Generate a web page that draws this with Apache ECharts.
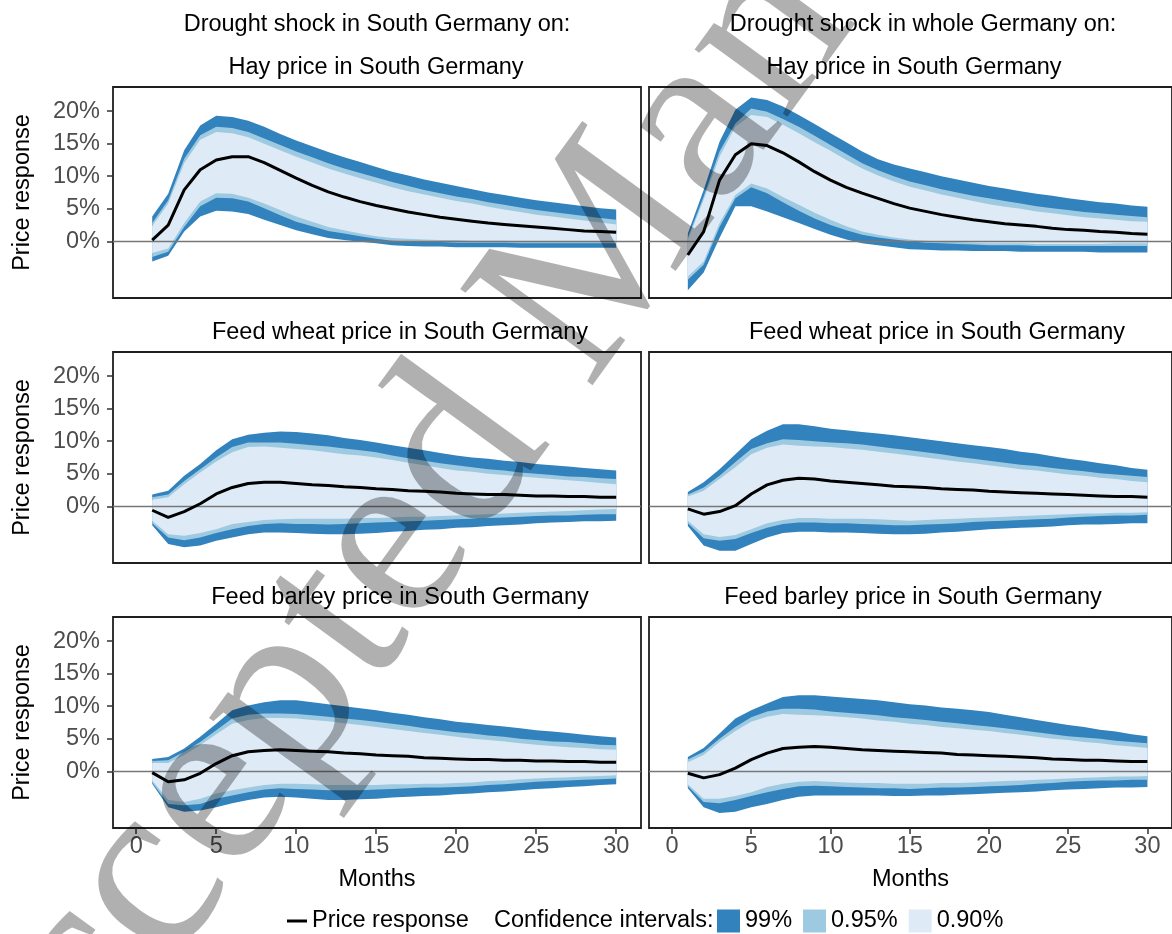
<!DOCTYPE html>
<html>
<head>
<meta charset="utf-8">
<script src="https://cdn.jsdelivr.net/npm/echarts@6/dist/echarts.min.js"></script>
<style>
html,body{margin:0;padding:0;background:#ffffff;}
#chart{width:1172px;height:934px;}
</style>
</head>
<body>
<div id="chart"></div>
<script>
// ---------------- data ----------------
const months = [1,2,3,4,5,6,7,8,9,10,11,12,13,14,15,16,17,18,19,20,21,22,23,24,25,26,27,28,29,30];
const xTicks = [0,5,10,15,20,25,30];
const yTicks = [0,5,10,15,20];
const yTickLabels = ['0%','5%','10%','15%','20%'];
const columnTitles = ['Drought shock in South Germany on:', 'Drought shock in whole Germany on:'];
const panelTitles = ['Hay price in South Germany','Hay price in South Germany',
                     'Feed wheat price in South Germany','Feed wheat price in South Germany',
                     'Feed barley price in South Germany','Feed barley price in South Germany'];
const legendNames = ['Price response','99%','0.95%','0.90%'];

// Panel 1: hay, shock in South Germany
const p1Line = [0.2,2.5,7.9,11.0,12.5,13.0,13.0,12.1,10.9,9.7,8.6,7.6,6.8,6.1,5.5,5.0,4.5,4.1,3.7,3.4,3.1,2.8,2.6,2.4,2.2,2.0,1.8,1.6,1.5,1.4];
const p1Up99 = [3.8,7.3,14.0,17.8,19.3,19.1,18.5,17.6,16.5,15.5,14.6,13.7,12.9,12.2,11.4,10.7,10.1,9.5,9.0,8.5,8.0,7.5,7.1,6.7,6.3,6.0,5.7,5.4,5.1,4.9];
const p1Up95 = [2.8,6.3,12.7,16.3,17.6,17.4,16.8,15.8,14.8,13.8,12.9,12.0,11.2,10.5,9.8,9.1,8.5,7.9,7.4,6.9,6.5,6.0,5.6,5.2,4.8,4.5,4.2,3.9,3.6,3.3];
const p1Up90 = [2.3,5.8,12.0,15.6,16.8,16.6,16.0,15.0,14.0,13.0,12.1,11.2,10.4,9.7,9.0,8.3,7.7,7.2,6.7,6.2,5.8,5.3,4.9,4.5,4.1,3.8,3.5,3.2,2.9,2.6];
const p1Lo90 = [-1.8,-1.1,2.8,6.1,7.4,7.3,6.7,5.8,4.8,3.8,3.0,2.2,1.7,1.2,0.8,0.5,0.4,0.3,0.2,0.2,0.1,0.1,0.1,0.0,0.0,0.0,0.0,0.0,0.0,0.0];
const p1Lo95 = [-2.4,-1.6,2.2,5.4,6.7,6.6,6.1,5.1,4.0,3.0,2.3,1.6,1.2,0.8,0.4,0.1,0.0,-0.1,-0.1,-0.2,-0.2,-0.2,-0.2,-0.3,-0.3,-0.3,-0.3,-0.3,-0.3,-0.3];
const p1Lo99 = [-3.1,-2.2,1.5,3.8,4.7,4.6,4.2,3.3,2.5,1.7,1.1,0.5,0.2,-0.05,-0.3,-0.6,-0.7,-0.8,-0.8,-0.9,-0.9,-0.9,-0.9,-1.0,-1.0,-1.0,-1.0,-1.0,-1.0,-1.0];

// Panel 2: hay, shock in whole Germany
const p2Line = [-2.1,1.5,9.4,13.3,15.0,14.7,13.6,12.2,10.7,9.4,8.3,7.4,6.6,5.8,5.1,4.6,4.1,3.7,3.3,3.0,2.7,2.5,2.3,2.0,1.8,1.7,1.5,1.4,1.2,1.1];
const p2Up99 = [1.2,7.9,15.3,20.2,22.1,21.7,20.7,19.4,18.0,16.6,15.2,13.8,12.6,11.8,11.2,10.6,10.0,9.5,9.0,8.5,8.1,7.7,7.3,7.0,6.6,6.3,6.0,5.8,5.5,5.3];
const p2Up95 = [0.6,6.9,13.8,18.1,20.4,19.9,18.8,17.6,16.2,14.8,13.4,12.0,10.9,10.0,9.2,8.6,8.0,7.5,7.0,6.6,6.2,5.8,5.4,5.1,4.8,4.5,4.3,4.1,3.9,3.7];
const p2Up90 = [0.2,6.4,13.0,17.6,19.4,19.1,17.9,16.6,15.2,13.9,12.5,11.2,10.1,9.2,8.4,7.8,7.2,6.7,6.2,5.7,5.3,5.0,4.6,4.3,4.0,3.7,3.5,3.3,3.1,3.0];
const p2Lo90 = [-5.4,-3.1,2.8,7.1,8.9,8.1,6.8,5.6,4.4,3.3,2.3,1.5,1.0,0.6,0.3,0.1,0.0,-0.1,-0.2,-0.3,-0.3,-0.3,-0.4,-0.4,-0.4,-0.4,-0.4,-0.3,-0.3,-0.3];
const p2Lo95 = [-5.9,-3.6,2.2,6.6,8.3,7.4,6.0,4.7,3.5,2.5,1.7,1.0,0.6,0.3,0.0,-0.2,-0.3,-0.4,-0.5,-0.6,-0.6,-0.6,-0.7,-0.7,-0.7,-0.7,-0.7,-0.7,-0.7,-0.7];
const p2Lo99 = [-7.5,-4.8,0.5,5.4,5.4,4.6,3.7,2.8,1.9,1.0,0.3,-0.3,-0.6,-0.9,-1.2,-1.3,-1.4,-1.4,-1.5,-1.5,-1.5,-1.6,-1.6,-1.6,-1.6,-1.6,-1.7,-1.7,-1.7,-1.7];

// Panel 3: feed wheat, shock in South Germany
const p3Line = [-0.6,-1.7,-0.8,0.4,1.9,2.9,3.5,3.7,3.7,3.5,3.3,3.2,3.0,2.9,2.7,2.6,2.4,2.3,2.2,2.0,1.9,1.8,1.8,1.7,1.6,1.6,1.5,1.5,1.4,1.4];
const p3Up99 = [1.8,2.4,4.7,6.5,8.6,10.3,11.0,11.3,11.5,11.4,11.2,10.9,10.5,10.2,9.8,9.4,9.0,8.6,8.2,7.8,7.5,7.3,7.0,6.8,6.5,6.3,6.1,5.9,5.7,5.5];
const p3Up95 = [1.4,1.8,3.9,5.7,7.5,9.1,9.8,9.8,9.8,9.6,9.4,9.2,8.9,8.6,8.3,7.8,7.4,7.0,6.6,6.3,6.0,5.7,5.5,5.2,5.0,4.8,4.6,4.5,4.3,4.2];
const p3Up90 = [1.0,1.4,3.4,5.2,6.9,8.3,9.1,9.2,9.0,8.8,8.6,8.3,8.0,7.8,7.5,7.1,6.7,6.3,5.9,5.5,5.3,5.0,4.8,4.6,4.4,4.2,4.0,3.8,3.6,3.4];
const p3Lo90 = [-2.2,-4.3,-4.5,-4.1,-3.5,-2.7,-2.4,-2.1,-2.0,-1.9,-1.9,-1.9,-1.9,-1.8,-1.8,-1.7,-1.6,-1.6,-1.5,-1.4,-1.3,-1.2,-1.1,-1.0,-0.9,-0.8,-0.7,-0.6,-0.5,-0.4];
const p3Lo95 = [-2.6,-4.8,-5.2,-4.8,-4.1,-3.5,-3.0,-2.7,-2.6,-2.7,-2.7,-2.8,-2.7,-2.6,-2.5,-2.4,-2.3,-2.2,-2.1,-2.0,-1.9,-1.8,-1.7,-1.6,-1.5,-1.4,-1.4,-1.3,-1.2,-1.2];
const p3Lo99 = [-2.9,-5.8,-6.3,-6.0,-5.3,-4.8,-4.3,-4.0,-4.0,-4.1,-4.2,-4.3,-4.3,-4.2,-4.1,-3.9,-3.8,-3.6,-3.5,-3.3,-3.2,-3.0,-2.9,-2.8,-2.6,-2.5,-2.4,-2.3,-2.3,-2.2];

// Panel 4: feed wheat, shock in whole Germany
const p4Line = [-0.4,-1.2,-0.8,0.1,1.9,3.3,4.0,4.3,4.2,3.9,3.7,3.5,3.3,3.1,3.0,2.9,2.7,2.6,2.5,2.3,2.2,2.1,2.0,1.9,1.8,1.7,1.6,1.5,1.5,1.4];
const p4Up99 = [2.2,3.7,5.7,8.0,10.3,11.6,12.6,12.6,12.3,11.9,11.7,11.4,11.2,10.9,10.6,10.3,10.0,9.7,9.4,9.1,8.8,8.4,8.1,7.7,7.3,7.0,6.6,6.3,5.9,5.6];
const p4Up95 = [1.8,2.9,4.7,6.8,8.8,9.7,10.3,10.2,10.0,9.8,9.7,9.5,9.2,8.9,8.6,8.3,8.0,7.6,7.3,7.0,6.7,6.4,6.2,5.9,5.6,5.4,5.1,4.9,4.7,4.5];
const p4Up90 = [1.5,2.4,4.2,6.0,8.0,9.0,9.5,9.3,9.2,9.1,8.9,8.7,8.4,8.1,7.8,7.5,7.2,6.9,6.6,6.3,6.0,5.7,5.5,5.2,4.9,4.7,4.4,4.2,3.9,3.7];
const p4Lo90 = [-2.2,-4.3,-4.7,-4.4,-3.5,-2.6,-2.1,-1.8,-1.8,-1.9,-1.9,-1.9,-2.0,-2.1,-2.2,-2.1,-2.0,-1.9,-1.8,-1.7,-1.6,-1.5,-1.4,-1.3,-1.2,-1.1,-1.1,-1.0,-1.0,-0.9];
const p4Lo95 = [-2.6,-4.9,-5.3,-5.0,-4.1,-3.3,-2.7,-2.5,-2.5,-2.6,-2.6,-2.7,-2.8,-2.9,-2.9,-2.8,-2.7,-2.6,-2.4,-2.3,-2.2,-2.1,-2.0,-1.9,-1.7,-1.6,-1.5,-1.4,-1.4,-1.3];
const p4Lo99 = [-3.0,-6.0,-6.8,-6.8,-5.8,-4.8,-4.1,-3.9,-3.9,-4.0,-4.0,-4.1,-4.2,-4.3,-4.3,-4.2,-4.0,-3.9,-3.7,-3.5,-3.4,-3.3,-3.2,-3.1,-2.9,-2.8,-2.8,-2.7,-2.6,-2.6];

// Panel 5: feed barley, shock in South Germany
const p5Line = [-0.2,-1.6,-1.3,-0.3,1.2,2.4,3.0,3.2,3.3,3.2,3.1,3.0,2.8,2.7,2.5,2.4,2.3,2.1,2.0,1.9,1.8,1.8,1.7,1.7,1.6,1.6,1.5,1.5,1.4,1.4];
const p5Up99 = [1.9,2.2,3.5,5.3,7.3,9.4,10.1,10.6,10.9,10.9,10.6,10.3,10.0,9.7,9.4,9.0,8.7,8.3,8.0,7.6,7.4,7.1,6.9,6.6,6.3,6.1,5.9,5.6,5.4,5.2];
const p5Up95 = [1.6,1.7,3.0,4.5,6.3,8.1,8.7,8.9,8.9,8.8,8.6,8.4,8.1,7.9,7.6,7.3,7.0,6.6,6.3,6.0,5.8,5.5,5.3,5.0,4.8,4.6,4.5,4.3,4.1,4.0];
const p5Up90 = [1.3,1.3,2.5,4.0,5.7,7.3,7.9,8.2,8.2,8.1,7.9,7.7,7.4,7.1,6.8,6.5,6.2,5.9,5.6,5.3,5.0,4.8,4.6,4.3,4.1,3.9,3.7,3.6,3.4,3.3];
const p5Lo90 = [-1.4,-4.4,-4.7,-4.2,-3.4,-2.9,-2.5,-2.1,-1.9,-1.9,-2.0,-2.1,-2.1,-2.1,-2.1,-2.0,-2.0,-1.9,-1.9,-1.8,-1.7,-1.5,-1.4,-1.2,-1.1,-1.0,-0.9,-0.8,-0.7,-0.6];
const p5Lo95 = [-1.7,-5.0,-5.2,-5.0,-4.2,-3.7,-3.2,-2.8,-2.6,-2.7,-2.8,-2.9,-2.9,-2.9,-2.8,-2.7,-2.6,-2.5,-2.5,-2.4,-2.3,-2.1,-2.0,-1.8,-1.6,-1.5,-1.4,-1.3,-1.2,-1.1];
const p5Lo99 = [-1.9,-5.5,-6.2,-6.0,-5.5,-4.9,-4.4,-4.0,-3.9,-4.0,-4.2,-4.4,-4.4,-4.3,-4.2,-4.0,-3.9,-3.8,-3.7,-3.5,-3.4,-3.2,-3.1,-2.9,-2.7,-2.6,-2.4,-2.3,-2.1,-2.0];

// Panel 6: feed barley, shock in whole Germany
const p6Line = [-0.3,-1.0,-0.5,0.5,1.8,2.8,3.5,3.7,3.8,3.7,3.5,3.3,3.2,3.1,3.0,2.9,2.8,2.6,2.5,2.4,2.3,2.2,2.1,1.9,1.8,1.7,1.7,1.6,1.5,1.5];
const p6Up99 = [2.2,3.6,5.8,8.1,9.4,10.4,11.4,11.7,11.7,11.5,11.3,11.1,10.9,10.6,10.3,10.1,9.8,9.6,9.4,9.1,8.7,8.3,7.9,7.5,7.1,6.8,6.4,6.1,5.7,5.4];
const p6Up95 = [1.8,3.0,5.0,6.8,8.3,9.2,9.6,9.6,9.5,9.2,9.0,8.8,8.6,8.3,8.1,7.9,7.6,7.4,7.1,6.9,6.6,6.3,6.0,5.7,5.4,5.2,5.0,4.7,4.5,4.3];
const p6Up90 = [1.4,2.5,4.5,6.2,7.6,8.4,8.8,8.7,8.6,8.5,8.3,8.1,7.8,7.6,7.3,7.1,6.8,6.6,6.4,6.2,5.9,5.6,5.3,5.0,4.8,4.5,4.3,4.0,3.8,3.6];
const p6Lo90 = [-2.0,-4.2,-4.2,-3.8,-3.2,-2.4,-1.9,-1.6,-1.5,-1.6,-1.7,-1.8,-1.8,-1.9,-1.9,-1.9,-1.8,-1.8,-1.7,-1.6,-1.5,-1.4,-1.3,-1.2,-1.1,-1.0,-0.9,-0.8,-0.8,-0.7];
const p6Lo95 = [-2.3,-4.7,-4.9,-4.4,-3.8,-3.2,-2.7,-2.3,-2.2,-2.3,-2.4,-2.5,-2.6,-2.6,-2.7,-2.6,-2.5,-2.5,-2.4,-2.3,-2.2,-2.1,-1.9,-1.8,-1.6,-1.5,-1.4,-1.4,-1.3,-1.3];
const p6Lo99 = [-2.6,-5.5,-6.4,-6.2,-5.5,-5.0,-4.4,-3.9,-3.7,-3.7,-3.7,-3.7,-3.7,-3.8,-3.8,-3.7,-3.7,-3.6,-3.5,-3.4,-3.3,-3.2,-3.1,-2.9,-2.8,-2.7,-2.6,-2.5,-2.5,-2.4];

// ---------------- layout / style ----------------
const FONT = '"Liberation Sans", Arial, Helvetica, sans-serif';
const FS = 23.5;
const C99 = '#3182bd', C95 = '#9ecae1', C90 = '#deebf7';

const panels = [
  {line:p1Line, up99:p1Up99, up95:p1Up95, up90:p1Up90, lo90:p1Lo90, lo95:p1Lo95, lo99:p1Lo99},
  {line:p2Line, up99:p2Up99, up95:p2Up95, up90:p2Up90, lo90:p2Lo90, lo95:p2Lo95, lo99:p2Lo99},
  {line:p3Line, up99:p3Up99, up95:p3Up95, up90:p3Up90, lo90:p3Lo90, lo95:p3Lo95, lo99:p3Lo99},
  {line:p4Line, up99:p4Up99, up95:p4Up95, up90:p4Up90, lo90:p4Lo90, lo95:p4Lo95, lo99:p4Lo99},
  {line:p5Line, up99:p5Up99, up95:p5Up95, up90:p5Up90, lo90:p5Lo90, lo95:p5Lo95, lo99:p5Lo99},
  {line:p6Line, up99:p6Up99, up95:p6Up95, up90:p6Up90, lo90:p6Lo90, lo95:p6Lo95, lo99:p6Lo99}
];

const gridLefts = [113, 649];
const gridTops = [87, 352, 617];
const GW = 528, GH = 211;

const grids = [], xAxes = [], yAxes = [], series = [];

function ribbon(idx, lo, hi, color, name) {
  return {
    type: 'custom', name: name, xAxisIndex: idx, yAxisIndex: idx, z: 2, silent: true,
    itemStyle: {color: color},
    data: months.map((m, i) => [m, lo[i], hi[i]]),
    encode: {x: 0, y: [1, 2]},
    renderItem: function (params, api) {
      if (params.dataIndex !== 0) return null;
      const pts = [];
      for (let i = 0; i < months.length; i++) pts.push(api.coord([months[i], hi[i]]));
      for (let i = months.length - 1; i >= 0; i--) pts.push(api.coord([months[i], lo[i]]));
      return {type: 'polygon', shape: {points: pts}, style: {fill: color}};
    }
  };
}

panels.forEach((p, i) => {
  const r = Math.floor(i / 2), c = i % 2;
  grids.push({left: gridLefts[c], top: gridTops[r], width: GW, height: GH, show: true,
              borderColor: '#1f1f1f', borderWidth: 1.8, backgroundColor: 'rgba(0,0,0,0)'});
  xAxes.push({
    gridIndex: i, type: 'value', min: -1.45, max: 31.55, position: 'bottom',
    axisLine: {show: false, onZero: false}, splitLine: {show: false},
    axisTick: {show: r === 2, customValues: xTicks, length: 6, lineStyle: {color: '#333', width: 1.5}},
    axisLabel: {show: r === 2, customValues: xTicks, color: '#4d4d4d', fontSize: FS, fontFamily: FONT, margin: 7},
    name: r === 2 ? 'Months' : '', nameLocation: 'middle', nameGap: 40,
    nameTextStyle: {color: '#000', fontSize: FS, fontFamily: FONT}
  });
  yAxes.push({
    gridIndex: i, type: 'value', min: -8.7, max: 23.7, position: 'left',
    axisLine: {show: false, onZero: false}, splitLine: {show: false},
    axisTick: {show: c === 0, customValues: yTicks, length: 6, lineStyle: {color: '#333', width: 1.5}},
    axisLabel: {show: c === 0, customValues: yTicks, color: '#4d4d4d', fontSize: FS, fontFamily: FONT, margin: 13,
                formatter: v => yTickLabels[yTicks.indexOf(v)]},
    name: c === 0 ? 'Price response' : '', nameLocation: 'middle', nameGap: 78, nameRotate: 90,
    nameTextStyle: {color: '#000', fontSize: FS, fontFamily: FONT}
  });
  series.push(ribbon(i, p.lo99, p.up99, C99, legendNames[1]));
  series.push(ribbon(i, p.lo95, p.up95, C95, legendNames[2]));
  series.push(ribbon(i, p.lo90, p.up90, C90, legendNames[3]));
  series.push({
    type: 'line', name: legendNames[0], xAxisIndex: i, yAxisIndex: i, z: 4, silent: true,
    data: months.map((m, k) => [m, p.line[k]]),
    symbol: 'none', showSymbol: false, color: '#000',
    lineStyle: {color: '#000', width: 3},
    markLine: {silent: true, symbol: 'none', z: 3, label: {show: false},
               lineStyle: {color: '#777', width: 1.3, type: 'solid'},
               emphasis: {disabled: true}, data: [{yAxis: 0}]}
  });
});

const textEls = [
  {x: 377, y: 25, t: columnTitles[0]},
  {x: 923, y: 25, t: columnTitles[1]},
  {x: 376, y: 68, t: panelTitles[0]},
  {x: 914, y: 68, t: panelTitles[1]},
  {x: 400, y: 333, t: panelTitles[2]},
  {x: 937, y: 333, t: panelTitles[3]},
  {x: 400, y: 598, t: panelTitles[4]},
  {x: 913, y: 598, t: panelTitles[5]},
  {x: 494, y: 921, t: 'Confidence intervals:', left: true}
];

const graphics = textEls.map(e => ({
  type: 'text', x: e.x, y: e.y, silent: true, z: 10,
  style: {text: e.t, fill: '#000', font: FS + 'px ' + FONT,
          align: e.left ? 'left' : 'center', verticalAlign: 'middle',
          textAlign: e.left ? 'left' : 'center', textVerticalAlign: 'middle'}
}));

// watermark overlay (semi-transparent dark text)
graphics.push({
  type: 'text', x: 574, y: 299, rotation: 54 * Math.PI / 180, silent: true, z: 100,
  style: {text: 'Accepted Manuscript', fill: 'rgba(0,0,0,0.31)', font: '250px "Liberation Serif", "Times New Roman", serif',
          align: 'center', verticalAlign: 'middle', textAlign: 'center', textVerticalAlign: 'middle'}
});

const chart = echarts.init(document.getElementById('chart'), null, {renderer: 'canvas'});
chart.setOption({
  animation: false,
  backgroundColor: '#ffffff',
  grid: grids,
  xAxis: xAxes,
  yAxis: yAxes,
  legend: [
    {data: [{name: legendNames[0], icon: 'rect', itemStyle: {color: '#000'}}],
     left: 287, top: 909, itemWidth: 20, itemHeight: 3, padding: 0, selectedMode: false,
     textStyle: {fontSize: FS, color: '#000', fontFamily: FONT}},
    {data: [{name: legendNames[1], icon: 'rect', itemStyle: {color: C99}},
            {name: legendNames[2], icon: 'rect', itemStyle: {color: C95}},
            {name: legendNames[3], icon: 'rect', itemStyle: {color: C90}}],
     left: 717, top: 909, itemWidth: 23, itemHeight: 23, itemGap: 11, padding: 0, selectedMode: false,
     textStyle: {fontSize: FS, color: '#000', fontFamily: FONT}}
  ],
  graphic: graphics,
  series: series
});
</script>
</body>
</html>
